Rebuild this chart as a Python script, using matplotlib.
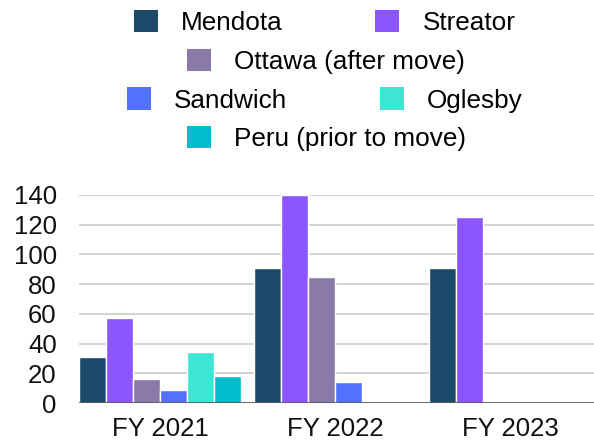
import numpy as np
import matplotlib.pyplot as plt

plt.rcParams['font.family'] = ['Liberation Sans', 'DejaVu Sans']

# data
years = ["FY 2021", "FY 2022", "FY 2023"]
series = ["Mendota", "Streator", "Ottawa (after move)", "Sandwich", "Oglesby", "Peru (prior to move)"]
mendota = [31, 91, 91]
streator = [57, 140, 125]
ottawa = [16, 85, np.nan]
sandwich = [9, 14, np.nan]
oglesby = [34, np.nan, np.nan]
peru = [18, np.nan, np.nan]
values = [mendota, streator, ottawa, sandwich, oglesby, peru]
colors = ["#1d4a6b", "#8b55ff", "#8a7aaa", "#5271ff", "#3de5d4", "#00bccf"]

W, H = 594, 440
fig = plt.figure(figsize=(W / 100, H / 100), dpi=100)
ax = fig.add_axes([79 / W, 1 - 403 / H, (594 - 79) / W, (403 - 195) / H])

x = np.arange(len(years))
bw = 27 / 175
bars = []
for i, (name, vals, c) in enumerate(zip(series, values, colors)):
    b = ax.bar(x - 0.463 + bw * (i + 0.5), vals, width=bw, color=c,
               edgecolor="white", linewidth=1, label=name, zorder=3)
    bars.append(b)

ax.set_ylim(0, 140)
ax.set_xlim(-0.463, 2.48)
ax.set_yticks(range(0, 141, 20))
ax.set_xticks(x)
ax.set_xticklabels(years)
ax.tick_params(axis='both', length=0, labelsize=18.5, colors="#111111")
ax.tick_params(axis='y', pad=16)
ax.tick_params(axis='x', pad=10)
ax.grid(axis='y', color="#cccccc", linewidth=1.2, zorder=0)
for s in ax.spines.values():
    s.set_visible(False)
ax.axhline(0, color="#555555", linewidth=1.2, zorder=4)

# legend rows, laid out like the original
fs = 18.8
rows = [([0, 1], 134, 22.7), ([2], 187, 61.3), ([3, 4], 127, 100), ([5], 187, 138.7)]
for idx, xl, yc in rows:
    lg = fig.legend(handles=[bars[k] for k in idx], labels=[series[k] for k in idx],
                    ncol=len(idx), loc='center left',
                    bbox_to_anchor=(xl / W, 1 - yc / H), frameon=False,
                    fontsize=fs, handlelength=24 / 26, handleheight=24 / 26,
                    handletextpad=23 / 26, columnspacing=92 / 26,
                    borderpad=0, borderaxespad=0)
    for h in lg.legend_handles:
        h.set_edgecolor("none")

fig.savefig("out.png", dpi=100)
